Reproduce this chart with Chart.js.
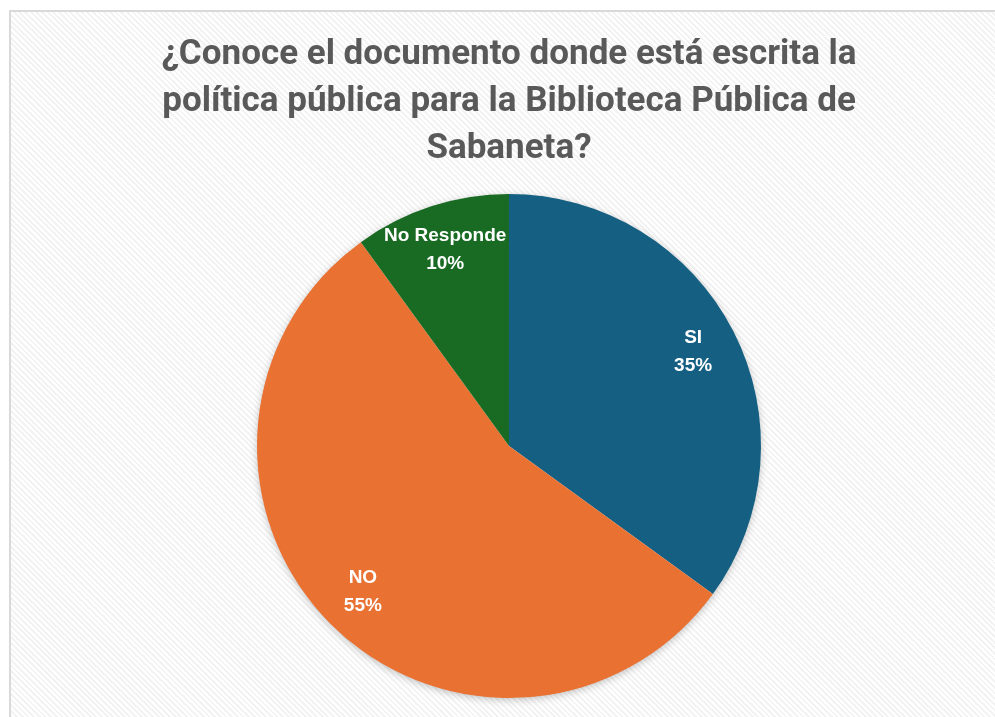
<!DOCTYPE html>
<html lang="es">
<head>
<meta charset="utf-8">
<title>Biblioteca Pública de Sabaneta</title>
<script src="https://cdn.jsdelivr.net/npm/chart.js@4.4.1/dist/chart.umd.min.js"></script>
<style>
  html, body { margin: 0; padding: 0; background: #fff; overflow: hidden; }
  #frame {
    position: absolute; left: 9px; top: 10px; width: 1000px; height: 720px;
    border: 2px solid #d9d9d9;
    background: repeating-linear-gradient(45deg, #ffffff 0px, #ffffff 2px, #f3f3f3 2px, #f3f3f3 4px);
  }
  #wrap { position: absolute; left: 0; top: 0; width: 995px; height: 717px; }
</style>
</head>
<body>
<div id="frame"></div>
<div id="wrap"><canvas id="pieChart"></canvas></div>
<script>
// Respuestas de la encuesta
const categories = ['SI', 'NO', 'No Responde'];
const percentages = [35, 55, 10];
const sliceColors = ['#156082', '#E97132', '#196B24'];
const titleLines = [
    '¿Conoce el documento donde está escrita la',
    'política pública para la Biblioteca Pública de',
    'Sabaneta?'
];

// Sombra suave detrás del pastel
const pieShadow = {
    id: 'pieShadow',
    beforeDatasetsDraw(chart) {
        const arc = chart.getDatasetMeta(0).data[0];
        if (!arc) return;
        const ctx = chart.ctx;
        ctx.save();
        ctx.shadowColor = 'rgba(0, 0, 0, 0.28)';
        ctx.shadowBlur = 9;
        ctx.shadowOffsetY = 2;
        ctx.fillStyle = '#ffffff';
        ctx.beginPath();
        ctx.arc(arc.x, arc.y, arc.outerRadius - 1, 0, Math.PI * 2);
        ctx.fill();
        ctx.restore();
    }
};

// Etiquetas: categoría y porcentaje dentro de cada porción
const sliceLabels = {
    id: 'sliceLabels',
    afterDatasetsDraw(chart) {
        const ctx = chart.ctx;
        const meta = chart.getDatasetMeta(0);
        ctx.save();
        ctx.fillStyle = '#ffffff';
        ctx.font = 'bold 19px "Liberation Sans", Arial, sans-serif';
        ctx.textAlign = 'center';
        ctx.textBaseline = 'middle';
        meta.data.forEach((arc, i) => {
            const mid = (arc.startAngle + arc.endAngle) / 2;
            const r = arc.outerRadius * 0.82;
            const x = arc.x + Math.cos(mid) * r;
            const y = arc.y + Math.sin(mid) * r;
            ctx.fillText(categories[i], x, y - 14);
            ctx.fillText(percentages[i] + '%', x, y + 14);
        });
        ctx.restore();
    }
};

new Chart(document.getElementById('pieChart'), {
    type: 'pie',
    data: {
        labels: categories,
        datasets: [{
            data: percentages,
            backgroundColor: sliceColors,
            borderWidth: 0
        }]
    },
    options: {
        responsive: true,
        maintainAspectRatio: false,
        animation: false,
        layout: {
            padding: { top: 5, bottom: 19, left: 40, right: 17 }
        },
        plugins: {
            legend: { display: false },
            tooltip: { enabled: false },
            title: {
                display: true,
                text: titleLines,
                color: '#595959',
                font: { family: 'Roboto, "Liberation Sans", sans-serif', size: 35, weight: 'bold', lineHeight: '47px' },
                padding: { top: 27, bottom: 21 }
            }
        }
    },
    plugins: [pieShadow, sliceLabels]
});
</script>
</body>
</html>
